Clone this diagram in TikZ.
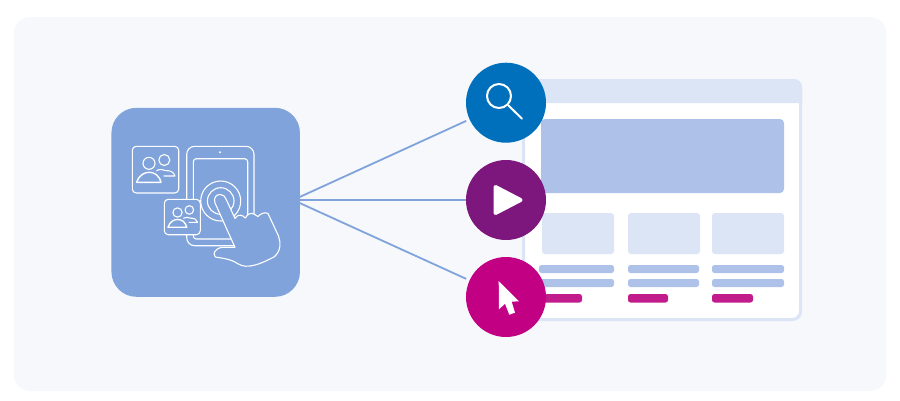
\documentclass[tikz,border=0pt]{standalone}
\usepackage{amsmath}
\usepackage{tikz}

\definecolor{panelbg}{HTML}{F6F8FC}
\definecolor{tileblue}{HTML}{7FA3DA}
\definecolor{palecard}{HTML}{DCE5F6}
\definecolor{midcard}{HTML}{AEC2E9}
\definecolor{barpink}{HTML}{C21C8C}
\definecolor{searchblue}{HTML}{0070BC}
\definecolor{playpurple}{HTML}{7D177D}
\definecolor{clickpink}{HTML}{C10084}

\begin{document}
\begin{tikzpicture}[x=1pt,y=-1pt]

\tikzset{badge/.style = {shape=circle,inner sep=0pt,minimum size=80pt}}
\tikzset{tile/.style = {shape=rectangle,fill=tileblue,rounded corners=25pt,inner sep=0pt,minimum width=188.5pt,minimum height=189pt}}
\tikzset{link/.style = {draw=tileblue,line width=1.8pt}}
\tikzset{outline/.style = {draw=white,line width=1.1pt,line join=round}}
\tikzset{cardbox/.style = {outline,fill=tileblue,rounded corners=4pt}}
\tikzset{thumb/.style = {fill=palecard,rounded corners=3pt}}
\tikzset{textbar/.style = {fill=midcard,rounded corners=2.5pt}}
\tikzset{pinkbar/.style = {fill=barpink,rounded corners=2.5pt}}
\tikzset{people/.pic = {
  \draw[outline] (0,0) circle (6);
  \draw[outline] (15.3,-3.3) circle (5.5);
  \draw[outline] (7.5,7.5) .. controls (10,5.5) and (14,6) .. (17,7.3) .. controls (22,7) and (25,9.5) .. (26,12.7) -- (14.5,12.7);
  \draw[outline,line width=1.4pt] (-12.3,19) .. controls (-10,11.5) and (-4,9) .. (0,9) .. controls (5,9) and (10,11.5) .. (12,19) -- cycle;
}}

% background
\fill[white] (0,0) rectangle (900,400);
\useasboundingbox (0,0) rectangle (900,400);
\fill[panelbg,rounded corners=16pt] (14,17) rectangle (886,391);

% page
\draw[draw=palecard,fill=white,line width=3pt,rounded corners=8pt] (523.5,80.5) rectangle (800.5,319.5);
\fill[palecard] (522,103) [rounded corners=8pt] -- (522,79) -- (802,79) [sharp corners] -- (802,103) -- cycle;
\fill[midcard,rounded corners=4pt] (541,119) rectangle (784,193);

\fill[thumb] (542,213) rectangle (614,254);
\fill[thumb] (628,213) rectangle (700,254);
\fill[thumb] (712,213) rectangle (784,254);

\foreach \y in {265,279} {
  \fill[textbar] (539,\y) rectangle (614,\y+8);
  \fill[textbar] (628,\y) rectangle (699,\y+8);
  \fill[textbar] (712,\y) rectangle (784,\y+8);
}
\fill[pinkbar] (539,294) rectangle (582,302.5);
\fill[pinkbar] (628,294) rectangle (668,302.5);
\fill[pinkbar] (712,294) rectangle (753,302.5);

% nodes
\node[tile] (touch) at (205.7,202.3) {};
\node[badge,fill=searchblue] (search) at (506,102.7) {};
\node[badge,fill=playpurple] (play) at (506,200) {};
\node[badge,fill=clickpink] (click) at (506,297) {};
\coordinate (hubtop) at (299,197.3);
\coordinate (hubmid) at (299,200);
\coordinate (hubbot) at (299,202.7);

% links
\draw[link,shorten >=3.5pt] (hubtop) to (search);
\draw[link] (hubmid) to (play);
\draw[link,shorten >=3.5pt] (hubbot) to (click);

% search icon
\draw[white,line width=2pt] (499,96) circle (12);
\draw[white,line width=2pt,line cap=round] (508.5,105.5) -- (522,118.7);

% play icon
\fill[white,draw=white,line width=4pt,line join=round] (495.5,187) -- (495.5,213) -- (520.5,200) -- cycle;

% cursor icon
\fill[white] (498.7,281) -- (519,301.3) -- (511.7,301.7) -- (515,312.7) -- (509.3,314.7) -- (505,303.7) -- (499,309.3) -- cycle;

% tablet
\draw[outline,rounded corners=8pt] (186.7,146.3) rectangle (254,245.7);
\draw[outline,rounded corners=3pt] (193.3,158.7) rectangle (247.7,239);
\fill[white] (220,152.3) circle (1.1);
\draw[outline] (220.7,201) circle (20);
\draw[outline] (220.7,201) circle (13.3);

% cards
\draw[cardbox] (132.3,146.3) rectangle (178.7,193);
\pic at (149,163.3) {people};
\draw[cardbox] (164.3,199.3) rectangle (200.3,234.7);
\pic[scale=0.775] at (177.5,212.5) {people};

% hand
\draw[outline,fill=tileblue] (215,203) .. controls (213,197) and (217,194.5) .. (220,194.5)
  .. controls (223,194.5) and (225,196) .. (226,199) -- (235,218.5)
  .. controls (237,215) and (240,214.5) .. (243,216) .. controls (244,217) and (245,218) .. (245.5,218)
  .. controls (247,214) and (251,212.5) .. (254,214) .. controls (256,215) and (257,216.5) .. (258,216.5)
  .. controls (260,214) and (265,211.5) .. (268,213.5) -- (278.5,236)
  .. controls (281,243) and (281,251) .. (274,257) .. controls (266,261) and (258,265) .. (250,266)
  .. controls (243,267) and (240,265) .. (234,261.5) .. controls (228,258.5) and (220,258) .. (215.5,257)
  .. controls (212.5,254) and (214,249) .. (222,247.3) -- (235,247.3) -- cycle;

\end{tikzpicture}
\end{document}
